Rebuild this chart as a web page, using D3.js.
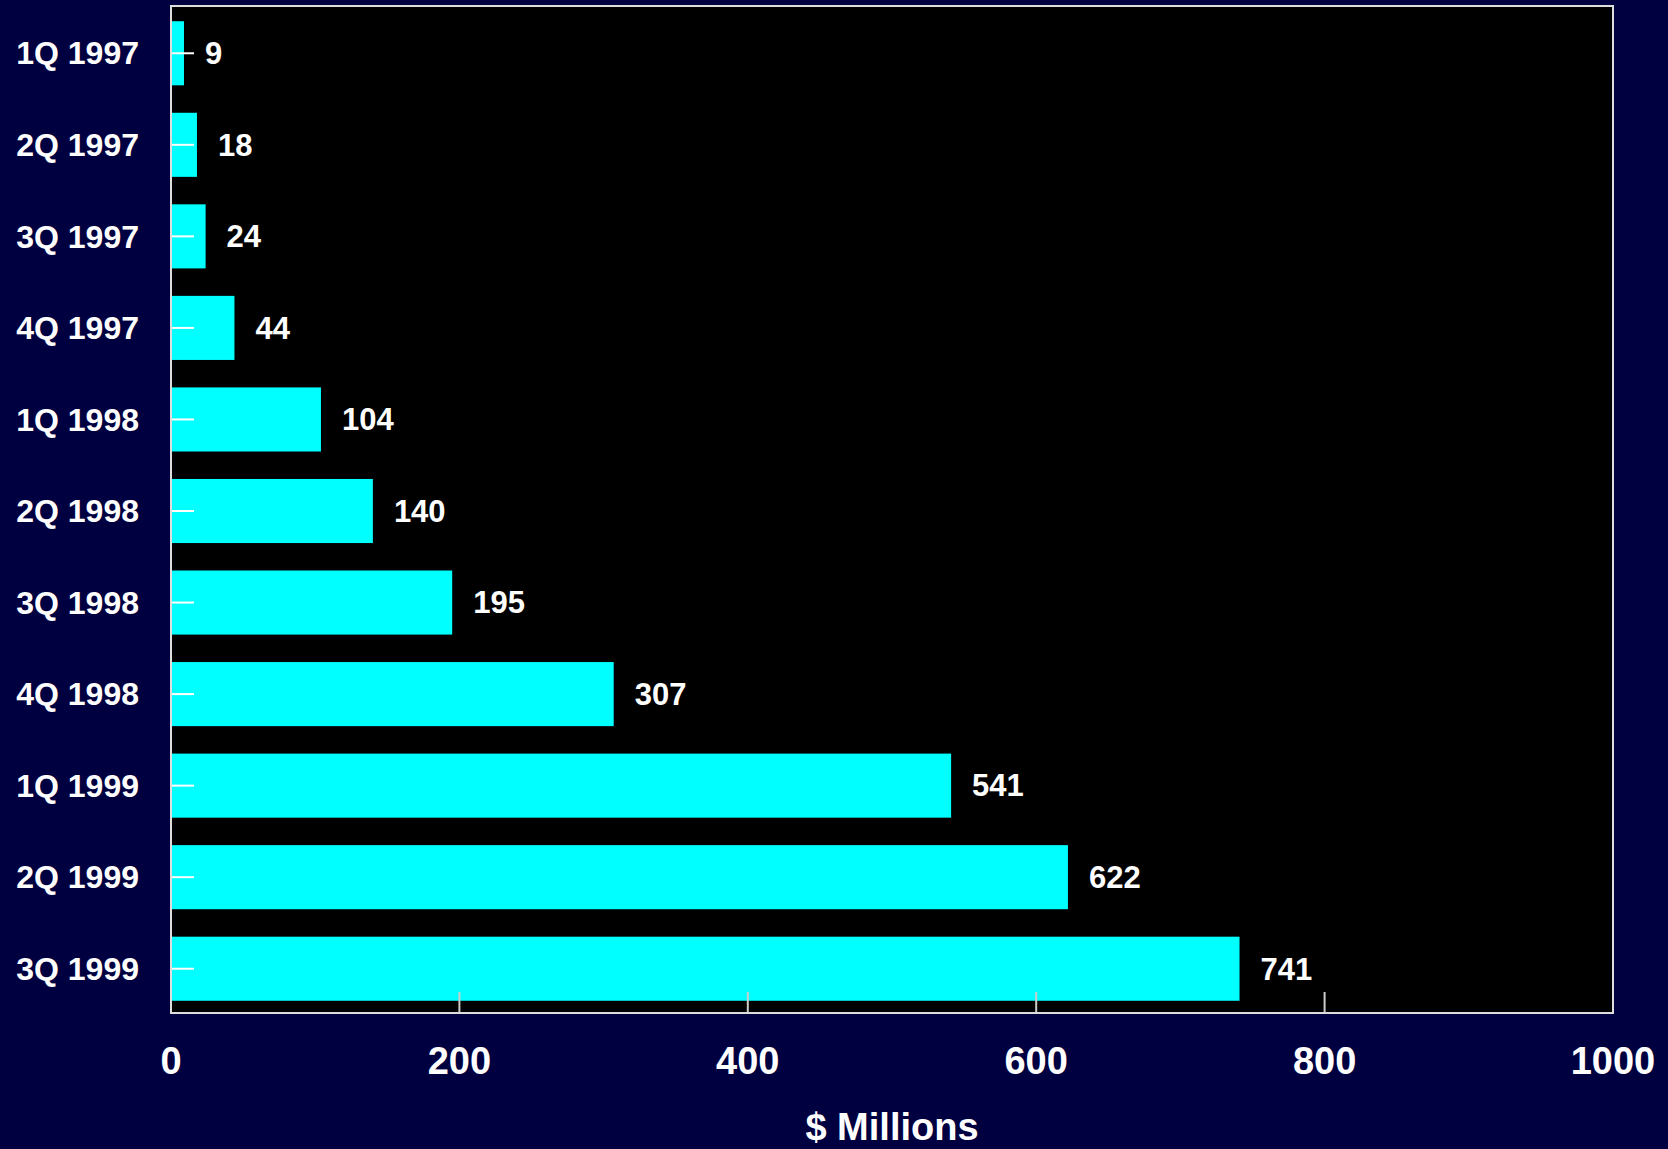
<!DOCTYPE html>
<html>
<head>
<meta charset="utf-8">
<script src="https://cdn.jsdelivr.net/npm/d3@7"></script>
<style>
body { margin: 0; background: #000040; }
svg { display: block; }
text { font-family: "Liberation Sans", Arial, sans-serif; font-weight: bold; fill: #fff; }
</style>
</head>
<body>
<div id="chart"></div>
<script>
// Data
var quarters = ["1Q 1997", "2Q 1997", "3Q 1997", "4Q 1997", "1Q 1998", "2Q 1998",
                "3Q 1998", "4Q 1998", "1Q 1999", "2Q 1999", "3Q 1999"]
var values = [9, 18, 24, 44, 104, 140, 195, 307, 541, 622, 741]
var xTicks = [0, 200, 400, 600, 800, 1000]
var xTitle = "$ Millions"

var width = 1668,
height = 1149
var plotLeft = 171, plotRight = 1613, plotTop = 6, plotBottom = 1013

var svg = d3.select("#chart").append("svg")
.attr("width", width)
.attr("height", height)

svg.append("rect")
.attr("width", width).attr("height", height)
.attr("fill", "#000040")

var x = d3.scaleLinear().domain([0, 1000]).range([plotLeft, plotRight])
// bands sit a touch lower than the frame in the original
var y = d3.scaleBand().domain(quarters).range([plotTop + 1.5, plotBottom + 1.5]).paddingInner(0.3).paddingOuter(0.15)

// plot background
svg.append("rect")
.attr("x", plotLeft).attr("y", plotTop)
.attr("width", plotRight - plotLeft).attr("height", plotBottom - plotTop)
.attr("fill", "#000")

// bars
svg.selectAll("rect.bar")
.data(values)
.join("rect")
.attr("class", "bar")
.attr("x", x(0))
.attr("y", function (d, i) { return y(quarters[i]) })
.attr("width", function (d) { return x(d) - x(0) })
.attr("height", y.bandwidth())
.attr("fill", "#00ffff")

// y ticks (short white lines inside plot)
svg.selectAll("line.ytick")
.data(quarters)
.join("line")
.attr("class", "ytick")
.attr("x1", plotLeft).attr("x2", plotLeft + 23)
.attr("y1", function (d) { return y(d) + y.bandwidth() / 2 })
.attr("y2", function (d) { return y(d) + y.bandwidth() / 2 })
.attr("stroke", "#fff").attr("stroke-width", 2)

// x ticks pointing up from bottom
svg.selectAll("line.xtick")
.data(xTicks.slice(1, -1))
.join("line")
.attr("class", "xtick")
.attr("x1", function (d) { return x(d) }).attr("x2", function (d) { return x(d) })
.attr("y1", plotBottom).attr("y2", plotBottom - 21)
.attr("stroke", "#ccc").attr("stroke-width", 2)

// frame
svg.append("rect")
.attr("x", plotLeft).attr("y", plotTop)
.attr("width", plotRight - plotLeft).attr("height", plotBottom - plotTop)
.attr("fill", "none")
.attr("stroke", "#ddd").attr("stroke-width", 2)

// category labels
svg.selectAll("text.cat")
.data(quarters)
.join("text")
.attr("class", "cat")
.attr("x", plotLeft - 32)
.attr("y", function (d) { return y(d) + y.bandwidth() / 2 })
.attr("dy", "0.35em")
.attr("text-anchor", "end")
.attr("font-size", 32)
.text(function (d) { return d })

// value labels
svg.selectAll("text.val")
.data(values)
.join("text")
.attr("class", "val")
.attr("x", function (d) { return x(d) + 21 })
.attr("y", function (d, i) { return y(quarters[i]) + y.bandwidth() / 2 })
.attr("dy", "0.35em")
.attr("font-size", 31)
.text(function (d) { return d })

// x tick labels
svg.selectAll("text.xlab")
.data(xTicks)
.join("text")
.attr("class", "xlab")
.attr("x", function (d) { return x(d) })
.attr("y", 1074)
.attr("text-anchor", "middle")
.attr("font-size", 38)
.text(function (d) { return d })

// axis title
svg.append("text")
.attr("x", (plotLeft + plotRight) / 2)
.attr("y", 1140)
.attr("text-anchor", "middle")
.attr("font-size", 38)
.text(xTitle)
</script>
</body>
</html>
